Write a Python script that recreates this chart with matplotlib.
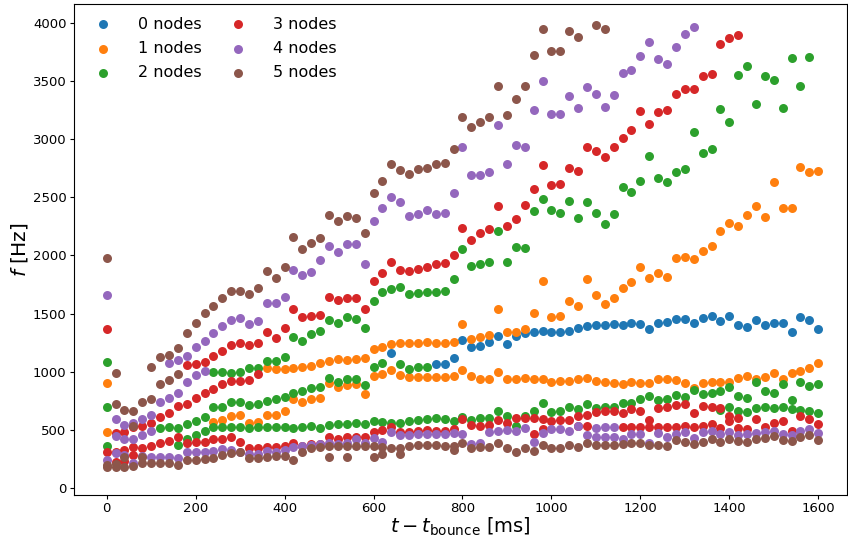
import numpy as np
import matplotlib.pyplot as plt

n = np.nan

# time after bounce [ms], one sample every 20 ms
t = np.arange(81) * 20

# 0 nodes
nodes0_a = [n] * 32 + [1158, n, n, n, n, 1064, 1067, 1115,
    1273, 1216, 1221, 1253, 1310, 1236, 1310, 1330, 1339, 1350,
    1339, 1345, 1353, 1373, 1394, 1402, 1402, 1411, 1402, 1422,
    1408, 1365, 1416, 1431, 1451, 1454, 1416, 1465, 1480, 1439,
    1480, 1402, 1382, 1445, 1402, 1422, 1416, 1345, 1474, 1445,
    1365]

# 1 nodes
nodes1_a = [900] + [n] * 17 + [1029, 1021,
    1024, 1035, 1044, 1052, 1078, 1095, 1107, 1101, 1110, 1121,
    1193, 1216, 1236, 1244, 1244, 1244, 1253, 1244, 1250, 1259,
    1411, 1282, 1302, 1316, 1540, 1339, 1345, 1368, 1508, 1783,
    1468, 1482, 1609, 1568, 1797, 1660, 1585, 1637, 1718, 1775,
    1898, 1803, 1846, 1817, 1975, 1989, 1966, 2038, 2084, 2210,
    2276, 2253, 2348, 2428, 2334, 2635, 2408, 2408, 2756, 2716,
    2727]
nodes1_b = [485] + [n] * 11 + [565, 585, 622, 628, 556, 571, 628, 628,
    665, 763, 737, 766, 777, 900, 872, 886, 892, 806,
    963, 981, 1015, 972, 958, 958, 958, 952, 952, 963,
    1015, 963, 938, 938, 1001, 938, 938, 943, 935, 938,
    915, 923, 923, 935, 943, 923, 909, 900, 892, 909,
    906, 900, 935, 935, 929, 906, 863, 900, 915, 909,
    915, 943, 963, 938, 952, 992, 938, 992, 1006, 1029,
    1078]

# 2 nodes
nodes2_a = [1087] + [n] * 11 + [1001, 1001, 992, 995, 1029, 1035, 1095, 1092,
    1124, 1296, 1267, 1322, 1350, 1445, 1416, 1468, 1454, 1373,
    1609, 1689, 1709, 1726, 1672, 1680, 1689, 1683, 1695, 1798,
    2053, 1909, 1927, 1947, 2210, 1941, 2076, 2061, 2383, 2483,
    2391, 2363, 2472, 2320, 2457, 2368, 2271, 2357, 2586, 2543,
    2643, 2855, 2669, 2629, 2715, 2741, 3057, 2879, 2914, 3260,
    3148, 3547, 3625, 3300, 3538, 3512, 3266, 3696, 3453, 3708,
    n]
nodes2_b = [700, n, n, n, n, n, 513, 528, 519, 550,
    579, 608, 694, 694, 737, 737, 714, 723, 749, 763,
    786, 814, 837, 857, 866, 943, 915, 935, 938, 886,
    1038, 1072, n, 1067, 1024, 1044, 1044] + [n] * 44
nodes2_c = [364, n, n, n, n, n, n, n, 370, 419,
    456, 490, 522, 522, 522, 522, 519, 522, 522, 522,
    522, 519, 528, 533, 519, 542, 550, 550, 556, 550,
    576, 565, 556, 556, 576, 585, 594, 599, 594, 579,
    614, 585, 605, 605, 662, 619, 533, 619, 665, 734,
    657, 662, 700, 677, 720, 685, 700, 694, 734, 728,
    763, 791, 757, 763, 800, 786, 843, 809, 820, 837,
    866, 794, 771, 909, 837, 814, 895, 757, 915, 880,
    895]
nodes2_d = [n] * 69 + [671, 694, 662, 657, 691, 694, 685, 700, 677, 671, 662, 642]

# 3 nodes
nodes3_a = [1368] + [n] * 8 + [1058,
    1064, 1087, 1135, 1181, 1230, 1250, 1230, 1250, 1339, 1293,
    1373, 1540, 1468, 1482, 1488, 1640, 1617, 1637, 1631, 1540,
    1780, 1852, 1947, 1875, 1869, 1883, 1898, 1927, 1938, 2004,
    2239, 2133, 2191, 2225, 2426, 2249, 2311, 2431, 2575, 2779,
    2603, 2615, 2755, 2727, 2933, 2899, 2845, 2928, 3008, 3080,
    3243, 3128, 3229, 3252, 3389, 3430, 3432, 3539, 3561, 3819,
    3868, 3894] + [n] * 9
nodes3_b = [n, 476, 485, 522, 530, 560, 608, 648, 705, 723,
    777, 814, 852, 892, 923, 923, 929, 981] + [n] * 63
nodes3_c = [313, 313, 327, 356, 347, 364, 390, 407, 436, 384,
    399, 399, 419, 419, 436, 399, 347, 347, 356, 356,
    361, 390, 364, 376, 378, 442, 421, 436, 442, 436,
    479, 499, 522, 479, 479, 490, 499, 493, 490, 505,
    594, 542, 536, 542, 585, 556, 599, 599, 599, 591,
    579, 585, 585, 622, 628, 657, 665, 665, 642, 677,
    662, 585, 685, 700, 714, 720, 642, 705, 700, 690,
    620, 600, n, 594, n, 562, 579, n, 619, 594,
    551]
nodes3_d = [n, 227, 232, 284] + [n] * 44 + [462, 508,
    n, n, n, 533, 533, n, n, n, 528, 528,
    528, 528, 522, 528, 528, 533, 522, 536, 551, 519,
    576, 519, 505, n, 528, n, n, 493, n, n,
    n]

# 4 nodes
nodes4_a = [1663] + [n] * 6 + [1072, 1101, 1135,
    1210, 1267, 1330, 1394, 1445, 1459, 1411, 1439, 1594, 1588,
    1645, 1875, 1832, 1860, 1961, 2085, 2033, 2099, 2096, 1927,
    2297, 2406, 2500, 2457, 2340, 2354, 2391, 2354, 2362, 2535,
    2930, 2687, 2693, 2721, 3123, 2784, 2950, 2936, 3252, 3496,
    3214, 3217, 3372, 3266, 3444, 3389, 3275, 3381, 3570, 3593,
    3711, 3835, 3689, 3641, 3791, 3903, 3966] + [n] * 14
nodes4_b = [n, 591, 542, 556, 594, 628, 740, 771, 814, 915, 972, 1006] + [n] * 69
nodes4_c = [n, 447, 419, 419, 456, 493] + [n] * 75
nodes4_d = [241, 298, 284, 212, 275, 264, 270, 270, 255, 313,
    313, 313, 318, 333, 327, 313, 290, 290, 321, 313,
    327, 356, 364, 370, 378, 384, 378, 384, 421, 384,
    433, 399, 485, 456, 456, 462, 462, 462, 465, 476,
    462, 376, 390, 485, 490, 499, 490, 513, 399, 476,
    508, 508, 490, 533, 456, 519, 528, 528, 419, 462,
    462, 384, 470, 442, 462, 479, 433, 479, 490, 462,
    479, 456, 462, 470, 485, 490, 462, 456, 490, 508,
    470]
nodes4_e = [n] * 55 + [442, 442, 442] + [n] * 23

# 5 nodes
nodes5_a = [1976, 987, n, n, n, 1038, 1130, 1144, 1201, 1330,
    1422, 1502, 1566, 1637, 1697, 1694, 1665, 1718, 1867, 1804,
    1904, 2162, 2059, 2110, 2147, 2348, 2299, 2342, 2319, 2196,
    2535, 2642, 2784, 2735, 2701, 2741, 2755, 2784, 2793, 2913,
    3192, 3102, 3151, 3194, 3452, 3206, 3344, 3452, 3725, 3945,
    3754, 3754, 3925, 3874, n, 3977, 3945] + [n] * 24
nodes5_b = [n, 723, 671, 665, 737, 768, 895, 929, 981] + [n] * 72
nodes5_c = [184, 184, 184, 189, 212, 212, 212, 212, 198, 241,
    241, 247, 255, 284, 304, 313, 255, 255, 270, 275,
    275, 241, 313, 341, 356, 364, 364, 364, 364, 364,
    361, 356, 341, 341, 364, 370, 370, 370, 361, 364,
    384, 341, 356, 356, 384, 341, 313, 347, 318, 370,
    347, 341, 370, 356, 384, 370, 370, 370, 376, 390,
    384, 370, 370, 361, 413, 399, 376, 399, 419, 399,
    419, 404, 393, 419, 433, 447, 413, 404, 442, 456,
    413]
nodes5_d = [200, 205, 270, 537, 270] + [n] * 20 + [270, n, 270, n, n,
    270, 292, n, 292, n, n, n, n, n, 327] + [n] * 41

modes = [
    [nodes0_a],
    [nodes1_a, nodes1_b],
    [nodes2_a, nodes2_b, nodes2_c, nodes2_d],
    [nodes3_a, nodes3_b, nodes3_c, nodes3_d],
    [nodes4_a, nodes4_b, nodes4_c, nodes4_d, nodes4_e],
    [nodes5_a, nodes5_b, nodes5_c, nodes5_d],
]

fig = plt.figure(figsize=(8.48, 5.37), dpi=100)
ax = fig.add_axes([0.087, 0.078, 0.912, 0.915])

for k, tracks in enumerate(modes):
    for j, f in enumerate(tracks):
        ax.scatter(t, f, color=f'C{k}', s=42, linewidths=0,
                   label=f'{k} nodes' if j == 0 else None)

ax.set_xlim(-74, 1665)
ax.set_ylim(-60, 4163)
ax.set_xticks(np.arange(0, 1601, 200))
ax.set_yticks(np.arange(0, 4001, 500))
ax.tick_params(labelsize=9.5, length=2.8, pad=2.5)
ax.set_xlabel(r'$t - t_{\rm bounce}$ [ms]', fontsize=14, labelpad=0)
ax.set_ylabel(r'$f$ [Hz]', fontsize=14.5, labelpad=2)
ax.legend(loc='upper left', ncol=2, frameon=False, fontsize=11.5,
          columnspacing=1.3, handletextpad=1.2, labelspacing=0.58,
          borderaxespad=0.4)

fig.savefig('out.png', dpi=100)
